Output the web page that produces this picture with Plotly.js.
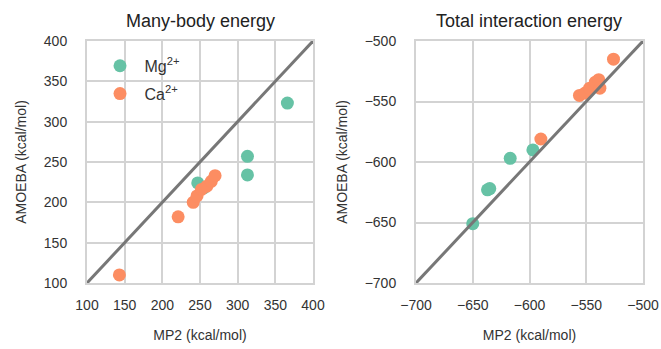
<!DOCTYPE html>
<html><head><meta charset="utf-8">
<script src="https://cdn.plot.ly/plotly-3.0.1.min.js"></script>
<style>body{margin:0;padding:0;background:#fff}#c{width:661px;height:349px}</style>
</head><body><div id="c"></div>
<script>
// Many-body energy
const mbMgX = [366, 313, 313, 247, 255];
const mbMgY = [323, 257, 234, 224, 218];
const mbCaX = [143, 221, 241, 246, 252, 259, 265, 270];
const mbCaY = [110, 182, 200, 208, 216, 220, 226, 233];
// Total interaction energy
const tiMgX = [-650, -637, -635, -617, -597];
const tiMgY = [-651, -623, -622, -597, -590];
const tiCaX = [-590, -556, -551, -547, -542, -539, -538, -526];
const tiCaY = [-581, -545, -543, -539, -534, -532, -539, -515];
const lineL = [100, 400];
const lineR = [-700, -500];

const green = '#66c2a5', orange = '#fc8d62';
const mk = c => ({color: c, size: 13});
const traces = [
  {x: mbMgX, y: mbMgY, type: 'scatter', mode: 'markers', marker: mk(green), name: 'Mg<sup>2+</sup>', legendgroup: 'a', xaxis: 'x', yaxis: 'y'},
  {x: mbCaX, y: mbCaY, type: 'scatter', mode: 'markers', marker: mk(orange), name: 'Ca<sup>2+</sup>', legendgroup: 'b', xaxis: 'x', yaxis: 'y'},
  {x: lineL, y: lineL, type: 'scatter', mode: 'lines', line: {color: '#777777', width: 3}, showlegend: false, xaxis: 'x', yaxis: 'y'},
  {x: tiMgX, y: tiMgY, type: 'scatter', mode: 'markers', marker: mk(green), showlegend: false, xaxis: 'x2', yaxis: 'y2'},
  {x: tiCaX, y: tiCaY, type: 'scatter', mode: 'markers', marker: mk(orange), showlegend: false, xaxis: 'x2', yaxis: 'y2'},
  {x: lineR, y: lineR, type: 'scatter', mode: 'lines', line: {color: '#777777', width: 3}, showlegend: false, xaxis: 'x2', yaxis: 'y2'}
];
const FF = 'Liberation Sans, Arial, sans-serif';
const tf = {family: FF, size: 14, color: '#333'};
const ax = (dom, range, title, anchor, isX) => ({
  domain: dom, range: range, dtick: 50, tick0: range[0], anchor: anchor,
  showgrid: true, gridcolor: '#d3d3d3', gridwidth: 2,
  showline: true, linecolor: '#d3d3d3', linewidth: 2, mirror: true,
  zeroline: false, ticks: 'outside', ticklen: isX ? 8 : 15, tickcolor: 'rgba(0,0,0,0)',
  tickfont: tf, tickformat: 'd',
  title: {text: title, font: tf, standoff: isX ? 18 : 14}, fixedrange: true
});
const yd = [1 - 283/349, 1 - 41/349];
const layout = {
  width: 661, height: 349,
  margin: {l: 0, r: 0, t: 0, b: 0},
  paper_bgcolor: '#fff', plot_bgcolor: '#fff',
  font: {family: FF, color: '#333'},
  showlegend: true,
  legend: {x: 0.1445, y: 0.86, xanchor: 'left', yanchor: 'top', bgcolor: 'rgba(0,0,0,0)',
           font: {size: 16, color: '#333', family: FF}, traceorder: 'grouped', tracegroupgap: 4, itemwidth: 39},
  xaxis: ax([87/661, 313/661], [100, 400], 'MP2 (kcal/mol)', 'y', true),
  yaxis: ax(yd, [100, 400], 'AMOEBA (kcal/mol)', 'x', false),
  xaxis2: ax([416/661, 643/661], [-700, -500], 'MP2 (kcal/mol)', 'y2', true),
  yaxis2: ax(yd, [-700, -500], 'AMOEBA (kcal/mol)', 'x2', false),
  annotations: [
    {text: 'Many-body energy', xref: 'paper', yref: 'paper', x: 200/661, y: 1 - 21/349, xanchor: 'center', yanchor: 'middle', showarrow: false, font: {size: 18, color: '#222', family: FF}},
    {text: 'Total interaction energy', xref: 'paper', yref: 'paper', x: 529/661, y: 1 - 21/349, xanchor: 'center', yanchor: 'middle', showarrow: false, font: {size: 18, color: '#222', family: FF}}
  ]
};
Plotly.newPlot('c', traces, layout, {displayModeBar: false, staticPlot: true});
</script></body></html>
